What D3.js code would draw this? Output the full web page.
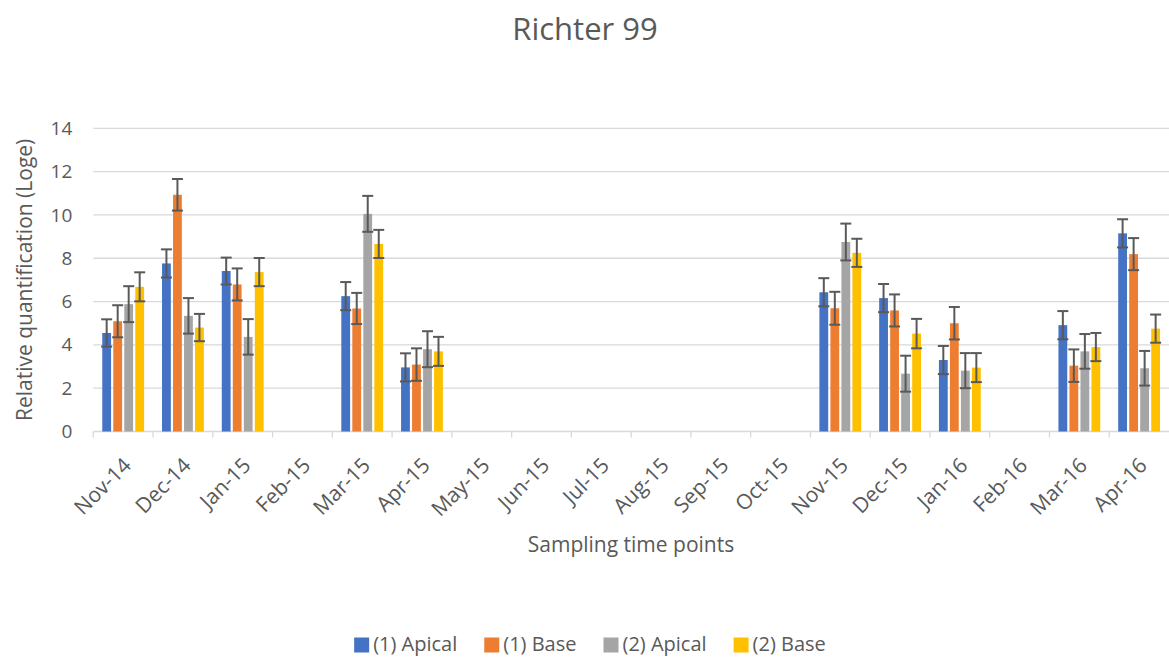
<!DOCTYPE html>
<html>
<head>
<meta charset="utf-8">
<script src="https://cdnjs.cloudflare.com/ajax/libs/d3/7.8.5/d3.min.js"></script>
<style>
  body { margin: 0; background: #fff; }
  text { font-family: "Open Sans", sans-serif; fill: #595959; }
</style>
</head>
<body>
<svg id="drawing_region"></svg>
<script>
// sampling months on the x axis
const months = ['Nov-14','Dec-14','Jan-15','Feb-15','Mar-15','Apr-15','May-15','Jun-15','Jul-15',
                'Aug-15','Sep-15','Oct-15','Nov-15','Dec-15','Jan-16','Feb-16','Mar-16','Apr-16'];
const seriesNames = ['(1) Apical','(1) Base','(2) Apical','(2) Base'];
const seriesColors = ['#4472C4','#ED7D31','#A5A5A5','#FFC000'];

// values (null = not sampled)
const apical1 = [4.55, 7.76, 7.41, null, 6.25, 2.96, null, null, null, null, null, null, 6.43, 6.16, 3.30, null, 4.91, 9.15];
const base1   = [5.09, 10.93, 6.79, null, 5.68, 3.09, null, null, null, null, null, null, 5.69, 5.59, 5.00, null, 3.04, 8.19];
const apical2 = [5.88, 5.34, 4.37, null, 10.05, 3.80, null, null, null, null, null, null, 8.75, 2.67, 2.81, null, 3.70, 2.92];
const base2   = [6.68, 4.80, 7.36, null, 8.66, 3.70, null, null, null, null, null, null, 8.25, 4.52, 2.95, null, 3.90, 4.75];

// error bar half widths
const apical1Err = [0.63, 0.65, 0.62, null, 0.65, 0.65, null, null, null, null, null, null, 0.65, 0.65, 0.65, null, 0.65, 0.65];
const base1Err   = [0.74, 0.73, 0.74, null, 0.72, 0.75, null, null, null, null, null, null, 0.76, 0.74, 0.75, null, 0.75, 0.74];
const apical2Err = [0.83, 0.82, 0.82, null, 0.83, 0.83, null, null, null, null, null, null, 0.85, 0.83, 0.81, null, 0.80, 0.80];
const base2Err   = [0.67, 0.63, 0.65, null, 0.65, 0.67, null, null, null, null, null, null, 0.65, 0.68, 0.67, null, 0.65, 0.65];

const yTicks = [0, 2, 4, 6, 8, 10, 12, 14];

const allValues = [apical1, base1, apical2, base2];
const allErrs = [apical1Err, base1Err, apical2Err, base2Err];

const W = 1169, H = 657;
const margin = {top: 128.3, right: 0, bottom: 225.5, left: 93.3};
const innerW = W - margin.left - margin.right;
const innerH = H - margin.top - margin.bottom;

const svg = d3.select('#drawing_region')
    .attr('width', W)
    .attr('height', H);

const chart = svg.append('g')
    .attr('transform', `translate(${margin.left}, ${margin.top})`);

const x0 = d3.scaleBand()
    .domain(months)
    .range([0, innerW])
    .paddingInner(0.3)
    .paddingOuter(0.15);

const x1 = d3.scaleBand()
    .domain(d3.range(seriesNames.length))
    .range([0, x0.bandwidth()])
    .paddingInner(0.2);

const yscale = d3.scaleLinear()
    .domain([0, 14])
    .range([innerH, 0]);

// gridlines
chart.selectAll('.grid')
    .data(yTicks.filter(d => d !== 0))
    .enter()
    .append('line')
    .attr('x1', 0)
    .attr('x2', innerW)
    .attr('y1', d => yscale(d))
    .attr('y2', d => yscale(d))
    .attr('stroke', '#d9d9d9')
    .attr('stroke-width', 1.3);

// y axis labels
const yaxis = d3.axisLeft(yscale)
    .tickValues(yTicks)
    .tickSize(0)
    .tickPadding(21);
const yg = chart.append('g').call(yaxis);
yg.select('.domain').remove();
yg.selectAll('text')
    .style('font-size', '19px')
    .attr('fill', '#595959');

// x axis
const xaxis_group = chart.append('g')
    .attr('transform', `translate(0, ${innerH})`);
xaxis_group.append('line')
    .attr('x1', 0).attr('x2', innerW)
    .attr('stroke', '#d9d9d9').attr('stroke-width', 1.3);
xaxis_group.selectAll('.tickmark')
    .data(months)
    .enter()
    .append('line')
    .attr('x1', d => x0(d) - x0.step() * 0.15)
    .attr('x2', d => x0(d) - x0.step() * 0.15)
    .attr('y1', 0).attr('y2', 6)
    .attr('stroke', '#d9d9d9').attr('stroke-width', 1.3);
xaxis_group.selectAll('.xlabel')
    .data(months)
    .enter()
    .append('text')
    .attr('text-anchor', 'end')
    .attr('transform', d => `translate(${x0(d) + x0.bandwidth() / 2 + 4}, 30) rotate(-45)`)
    .attr('dy', '0.35em')
    .style('font-size', '21px')
    .text(d => d);

// bars
const rows = [];
months.forEach((m, i) => {
    allValues.forEach((vals, s) => {
        if (vals[i] !== null) rows.push({month: m, s: s, v: vals[i], e: allErrs[s][i]});
    });
});

chart.selectAll('.bar')
    .data(rows)
    .enter()
    .append('rect')
    .attr('x', d => x0(d.month) + x1(d.s))
    .attr('width', x1.bandwidth())
    .attr('y', d => yscale(d.v))
    .attr('height', d => innerH - yscale(d.v))
    .attr('fill', d => seriesColors[d.s]);

// error bars
const capW = 5.5;
const eb = chart.selectAll('.err')
    .data(rows)
    .enter()
    .append('g')
    .attr('stroke', '#595959')
    .attr('stroke-width', 2);
eb.append('line')
    .attr('x1', d => x0(d.month) + x1(d.s) + x1.bandwidth() / 2)
    .attr('x2', d => x0(d.month) + x1(d.s) + x1.bandwidth() / 2)
    .attr('y1', d => yscale(d.v + d.e))
    .attr('y2', d => yscale(d.v - d.e));
eb.append('line')
    .attr('x1', d => x0(d.month) + x1(d.s) + x1.bandwidth() / 2 - capW)
    .attr('x2', d => x0(d.month) + x1(d.s) + x1.bandwidth() / 2 + capW)
    .attr('y1', d => yscale(d.v + d.e))
    .attr('y2', d => yscale(d.v + d.e));
eb.append('line')
    .attr('x1', d => x0(d.month) + x1(d.s) + x1.bandwidth() / 2 - capW)
    .attr('x2', d => x0(d.month) + x1(d.s) + x1.bandwidth() / 2 + capW)
    .attr('y1', d => yscale(d.v - d.e))
    .attr('y2', d => yscale(d.v - d.e));

// titles
svg.append('text')
    .attr('x', 585)
    .attr('y', 40)
    .attr('text-anchor', 'middle')
    .style('font-size', '31px')
    .text('Richter 99');

svg.append('text')
    .attr('x', 631)
    .attr('y', 552)
    .attr('text-anchor', 'middle')
    .style('font-size', '21px')
    .text('Sampling time points');

svg.append('text')
    .attr('transform', 'rotate(-90)')
    .attr('x', -(margin.top + innerH / 2))
    .attr('y', 32)
    .attr('text-anchor', 'middle')
    .style('font-size', '21px')
    .text('Relative quantification (Loge)');

// legend
const legend = svg.append('g');
const items = legend.selectAll('g')
    .data(seriesNames)
    .enter()
    .append('g');
items.append('rect')
    .attr('width', 15).attr('height', 15)
    .attr('y', 637.5)
    .attr('fill', (d, i) => seriesColors[i]);
items.append('text')
    .attr('x', 19)
    .attr('y', 651)
    .style('font-size', '20px')
    .text(d => d);
let lx = 0;
items.each(function () {
    const g = d3.select(this);
    g.attr('transform', `translate(${lx}, 0)`);
    lx += 19 + g.select('text').node().getComputedTextLength() + 27;
});
const legendW = lx - 27;
legend.attr('transform', `translate(${590 - legendW / 2}, 0)`);
</script>
</body>
</html>
